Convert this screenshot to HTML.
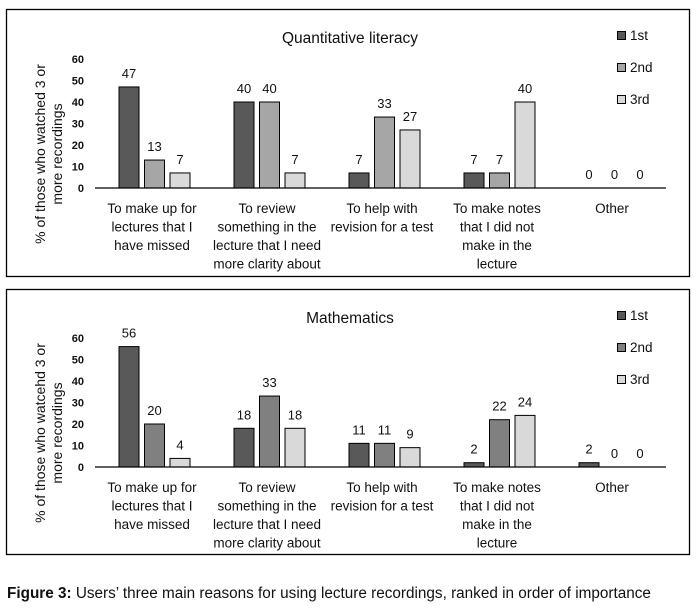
<!DOCTYPE html>
<html><head><meta charset="utf-8"><style>
body{margin:0;background:#fff;width:696px;height:609px;overflow:hidden;font-family:"Liberation Sans",sans-serif}
svg text{font-family:"Liberation Sans",sans-serif;fill:#111}
</style></head><body>
<svg id="svg" width="696" height="609"></svg>
<script>
const categories=[["To make up for","lectures that I","have missed"],["To review","something in the","lecture that I need","more clarity about"],["To help with","revision for a test"],["To make notes","that I did not","make in the","lecture"],["Other"]];
const seriesNames=["1st","2nd","3rd"];
const qlFirst=[47,40,7,7,0];
const qlSecond=[13,40,33,7,0];
const qlThird=[7,7,27,40,0];
const mFirst=[56,18,11,2,2];
const mSecond=[20,33,11,22,0];
const mThird=[4,18,9,24,0];
const yTicks=[0,10,20,30,40,50,60];
const NS="http://www.w3.org/2000/svg";
const svg=document.getElementById('svg');
function mk(t,a,p){const e=document.createElementNS(NS,t);for(const k in a)e.setAttribute(k,a[k]);(p||svg).appendChild(e);return e;}
function panel(top,bottom,base,title,series,colors,ytitle,pname){
  const g=mk('g',{});
  
  
  const r=mk('rect',{x:6.5,y:top+.5,width:683,height:bottom-top,fill:'none',stroke:'#000','stroke-width':1.3},g);
  
  const t=mk('text',{x:350,y:top+34,'font-size':15.5,'text-anchor':'middle'},g);t.textContent=title;
  
  const y=v=>base-v*2.15;
  yTicks.forEach(v=>{const tt=mk('text',{x:84,y:y(v)+4,'font-size':11,'font-weight':'bold','text-anchor':'end'},g);tt.textContent=v;
    });
  const yt=mk('text',{transform:`translate(47,${base-34}) rotate(-90)`,'font-size':14,'text-anchor':'middle'},g);
  
  ytitle.forEach((l,i)=>{const ts=mk('tspan',{x:0,dy:i?17:-2},yt);ts.textContent=l;});
  categories.forEach((c,ci)=>{
    const cx=152+ci*115;
    series.forEach((s,si)=>{
      const bx=cx-33+si*25.5,v=s[ci];
      if(v>0){const b=mk('rect',{x:bx,y:y(v),width:20,height:base-y(v),fill:colors[si],stroke:'#000','stroke-width':1},g);
        }
      const lt=mk('text',{x:bx+10,y:y(v)-9,'font-size':13,'text-anchor':'middle'},g);lt.textContent=v;
      
    });
    c.forEach((l,li)=>{const ct=mk('text',{x:cx,y:base+25+li*18.5,'font-size':13.5,'text-anchor':'middle'},g);ct.textContent=l;
      });
  });
  const ax=mk('line',{x1:95,x2:666,y1:base,y2:base,stroke:'#000','stroke-width':1.2},g);
  
  seriesNames.forEach((n,i)=>{const ly=top+31+i*32;
    const sq=mk('rect',{x:617.5,y:ly-8.5,width:8,height:8,fill:colors[i],stroke:'#000'},g);
    
    const lt=mk('text',{x:630,y:ly,'font-size':13.5},g);lt.textContent=n;
    });
}
panel(9,276,188,"Quantitative literacy",[qlFirst,qlSecond,qlThird],['#595959','#a6a6a6','#d9d9d9'],["% of those who watched 3 or","more recordings"],'quantitative-literacy-chart');
panel(289,554,467,"Mathematics",[mFirst,mSecond,mThird],['#595959','#808080','#d9d9d9'],["% of those who watcehd 3 or","more recordings"],'mathematics-chart');
const cap=mk('text',{x:7,y:598,'font-size':15.3});

const b=mk('tspan',{'font-weight':'bold'},cap);b.textContent="Figure 3:";
const rest=mk('tspan',{},cap);rest.textContent=" Users’ three main reasons for using lecture recordings, ranked in order of importance";
</script>
</body></html>
